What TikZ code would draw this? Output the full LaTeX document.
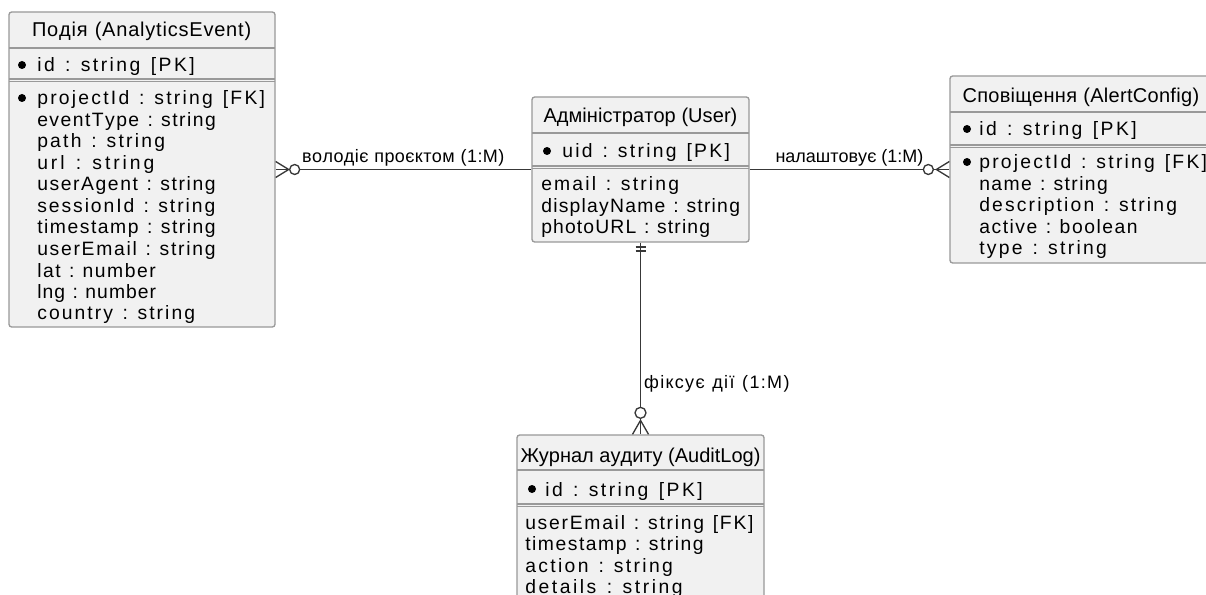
\documentclass[tikz,border=0pt]{standalone}
\usepackage{fontspec}
\setmainfont{Liberation Sans}
\usetikzlibrary{positioning,calc}

\definecolor{boxfill}{HTML}{F1F1F1}
\definecolor{boxline}{HTML}{999999}
\definecolor{relline}{HTML}{383838}

% text spread evenly to a given width
\ExplSyntaxOn
\dim_new:N \l_ent_track_dim
\str_new:N \l_ent_text_str
\box_new:N \l_ent_text_box
\cs_new_protected:Npn \ent_spread:nn #1#2
  {
    \str_set:Nx \l_ent_text_str {#2}
    \hbox_set:Nn \l_ent_text_box
      { \str_map_inline:Nn \l_ent_text_str { \hbox:n {##1} } }
    \dim_set:Nn \l_ent_track_dim
      { ( #1 - \box_wd:N \l_ent_text_box ) / \str_count:N \l_ent_text_str }
    \str_map_inline:Nn \l_ent_text_str { \hbox:n {##1} \kern \l_ent_track_dim }
  }
\NewDocumentCommand \spreadtext { m m } { \ent_spread:nn {#1} {#2} }
\NewDocumentCommand \attrtext { m }
  {
    \str_set:Nx \l_tmpa_str {#1}
    \ent_spread:nn { 7.5pt * \str_count:N \l_tmpa_str } {#1}
  }
\ExplSyntaxOff

\begin{document}
\begin{tikzpicture}[
    x=0.75pt, y=-0.75pt,
    entity/.style={draw=boxline, fill=boxfill, line width=1pt, rounded corners=2pt, rectangle, inner sep=0pt},
    sep/.style={draw=boxline, line width=1pt},
    title/.style={anchor=base, inner sep=0pt, font=\fontsize{15}{18}\selectfont},
    attr/.style={anchor=base west, inner sep=0pt, font=\fontsize{14.5}{16}\selectfont},
    key/.style={fill=black},
    rel/.style={draw=relline, line width=1pt},
    label/.style={inner sep=0pt, font=\fontsize{13.5}{16}\selectfont}
]
    \clip (0,0) rectangle (1206,595);
    \fill[white] (0,0) rectangle (1206,595);

    % Entities
    \node[entity, minimum width=199.5pt, minimum height=236.25pt] (event) at (142,169.5) {};
    \node[entity, minimum width=162.75pt, minimum height=108.75pt] (user) at (640.5,169.5) {};
    \node[entity, minimum width=196.5pt, minimum height=140.25pt] (alert) at (1081,169.5) {};
    \node[entity, minimum width=185.25pt, minimum height=126pt] (audit) at (640.5,519) {};

    % Event
    \node[title] (event-title) at (142,37) {\spreadtext{165pt}{Подія (AnalyticsEvent)}};
    \draw[sep] (9,48) -- (275,48);
    \fill[key] (22,65) circle[radius=4];
    \node[attr] (event-pk) at (37,72) {\attrtext{id : string [PK]}};
    \draw[sep] (9,79) -- (275,79);
    \draw[sep] (9,81.5) -- (275,81.5);
    \fill[key] (22,98) circle[radius=4];
    \foreach \txt [count=\i] in {{projectId : string [FK]}, {eventType : string}, {path : string},
        {url : string}, {userAgent : string}, {sessionId : string}, {timestamp : string},
        {userEmail : string}, {lat : number}, {lng : number}, {country : string}}
        \node[attr] (event-\i) at (37,{105+21.5*(\i-1)}) {\attrtext{\txt}};

    % User
    \node[title] (user-title) at (640.5,123) {\spreadtext{145.5pt}{Адміністратор (User)}};
    \draw[sep] (532,133) -- (749,133);
    \fill[key] (547,151) circle[radius=4];
    \node[attr] (user-pk) at (562,158) {\attrtext{uid : string [PK]}};
    \draw[sep] (532,166) -- (749,166);
    \draw[sep] (532,168.5) -- (749,168.5);
    \foreach \txt [count=\i] in {{email : string}, {displayName : string}, {photoURL : string}}
        \node[attr] (user-\i) at (541,{191+21.5*(\i-1)}) {\attrtext{\txt}};

    % Alert
    \node[title] (alert-title) at (1081,103) {\spreadtext{177.75pt}{Сповіщення (AlertConfig)}};
    \draw[sep] (950,112) -- (1212,112);
    \fill[key] (967,129) circle[radius=4];
    \node[attr] (alert-pk) at (979,136) {\attrtext{id : string [PK]}};
    \draw[sep] (950,145) -- (1212,145);
    \draw[sep] (950,147.5) -- (1212,147.5);
    \fill[key] (967,162) circle[radius=4];
    \foreach \txt [count=\i] in {{projectId : string [FK]}, {name : string}, {description : string},
        {active : boolean}, {type : string}}
        \node[attr] (alert-\i) at (979,{169+21.5*(\i-1)}) {\attrtext{\txt}};

    % Audit
    \node[title] (audit-title) at (640.5,462) {\spreadtext{180pt}{Журнал аудиту (AuditLog)}};
    \draw[sep] (517,470) -- (764,470);
    \fill[key] (532,489) circle[radius=4];
    \node[attr] (audit-pk) at (545,496) {\attrtext{id : string [PK]}};
    \draw[sep] (517,504) -- (764,504);
    \draw[sep] (517,506.5) -- (764,506.5);
    \foreach \txt [count=\i] in {{userEmail : string [FK]}, {timestamp : string}, {action : string},
        {details : string}}
        \node[attr] (audit-\i) at (525,{529+21.5*(\i-1)}) {\attrtext{\txt}};

    % Relations
    \draw[rel] (user.west) -- (event.east)
        node[label, midway, anchor=base, yshift=5pt] (rel-event) {\spreadtext{152pt}{володіє проєктом (1:M)}};
    \draw[rel] ($(event.east)+(0,-8)$) -- ++(13,8) -- ++(-13,8);
    \draw[rel, fill=white] ($(event.east)+(19,0)$) circle[radius=5];

    \draw[rel] (user.east) -- (alert.west)
        node[label, midway, anchor=base, yshift=5pt] (rel-alert) {\spreadtext{111pt}{налаштовує (1:M)}};
    \draw[rel] ($(alert.west)+(0,-8)$) -- ++(-13,8) -- ++(13,8);
    \draw[rel, fill=white] ($(alert.west)+(-21,0)$) circle[radius=5];

    \draw[rel] (user.south) -- (audit.north)
        node[label, pos=0.762, anchor=base west, xshift=2.25pt] (rel-audit) {\spreadtext{110pt}{фіксує дії (1:M)}};
    \draw[rel] ($(user.south)+(-5,4.5)$) -- ++(10,0);
    \draw[rel] ($(user.south)+(-5,8.5)$) -- ++(10,0);
    \draw[rel] ($(audit.north)+(-8,0)$) -- ++(8,-14) -- ++(8,14);
    \draw[rel, fill=white] ($(audit.north)+(0,-21.5)$) circle[radius=5.5];
\end{tikzpicture}
\end{document}
